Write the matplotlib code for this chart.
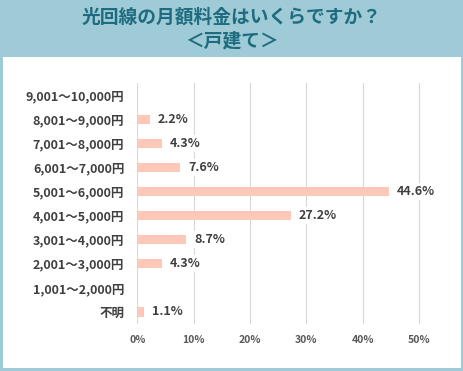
import matplotlib.pyplot as plt
from matplotlib.patches import Rectangle

plt.rcParams['font.family'] = ['Noto Sans CJK JP', 'DejaVu Sans']

categories = ['9,001〜10,000円', '8,001〜9,000円', '7,001〜8,000円', '6,001〜7,000円',
              '5,001〜6,000円', '4,001〜5,000円', '3,001〜4,000円', '2,001〜3,000円',
              '1,001〜2,000円', '不明']
values = [0, 2.2, 4.3, 7.6, 44.6, 27.2, 8.7, 4.3, 0, 1.1]
ticks = [0, 10, 20, 30, 40, 50]

W, H = 464, 371
teal = '#9ecbd5'
fig = plt.figure(figsize=(W / 100, H / 100), dpi=100)
fig.patch.set_facecolor(teal)

# white panel under header
fig.patches.append(Rectangle((3 / W, 3 / H), (W - 6) / W, (H - 57 - 3) / H,
                             transform=fig.transFigure, facecolor='white',
                             edgecolor='none', zorder=-1))

fig.text(0.5, 1 - 17 / H, '光回線の月額料金はいくらですか？', ha='center', va='center',
         fontsize=13.5, fontweight='bold', color='#1f6b80')
fig.text(0.5, 1 - 41 / H, '＜戸建て＞', ha='center', va='center',
         fontsize=13.5, fontweight='bold', color='#1f6b80')

ax = fig.add_axes([137.5 / W, 1 - 324 / H, (5.5 * 56.3) / W, 241 / H])
ax.set_zorder(2)
ax.set_facecolor('none')
y = list(range(len(categories)))[::-1]
ax.barh(y, values, height=0.38, color='#fdc8b8', zorder=2)
ax.set_xlim(0, 55)
ax.set_ylim(-0.5, len(categories) - 0.5)
ax.set_yticks(y)
ax.set_yticklabels(categories, fontsize=9, fontweight='bold', color='#404040')
ax.set_xticks(ticks)
ax.set_xticklabels([f'{t}%' for t in ticks], fontsize=7.5, fontweight='bold', color='#595959')
ax.tick_params(axis='y', length=0, pad=9.5)
ax.tick_params(axis='x', length=0, pad=8)
ax.xaxis.grid(True, color='#d9d9d9', linewidth=0.9, zorder=1)
ax.set_axisbelow(True)
for s in ax.spines.values():
    s.set_visible(False)

for yi, v in zip(y, values):
    if v > 0:
        ax.text(v + 1.4, yi, f'{v}%', va='center', ha='left', fontsize=9,
                fontweight='bold', color='#404040', zorder=3,
                bbox=dict(facecolor='white', edgecolor='none', pad=1.5))

fig.savefig('out.png', dpi=100, facecolor=teal)
